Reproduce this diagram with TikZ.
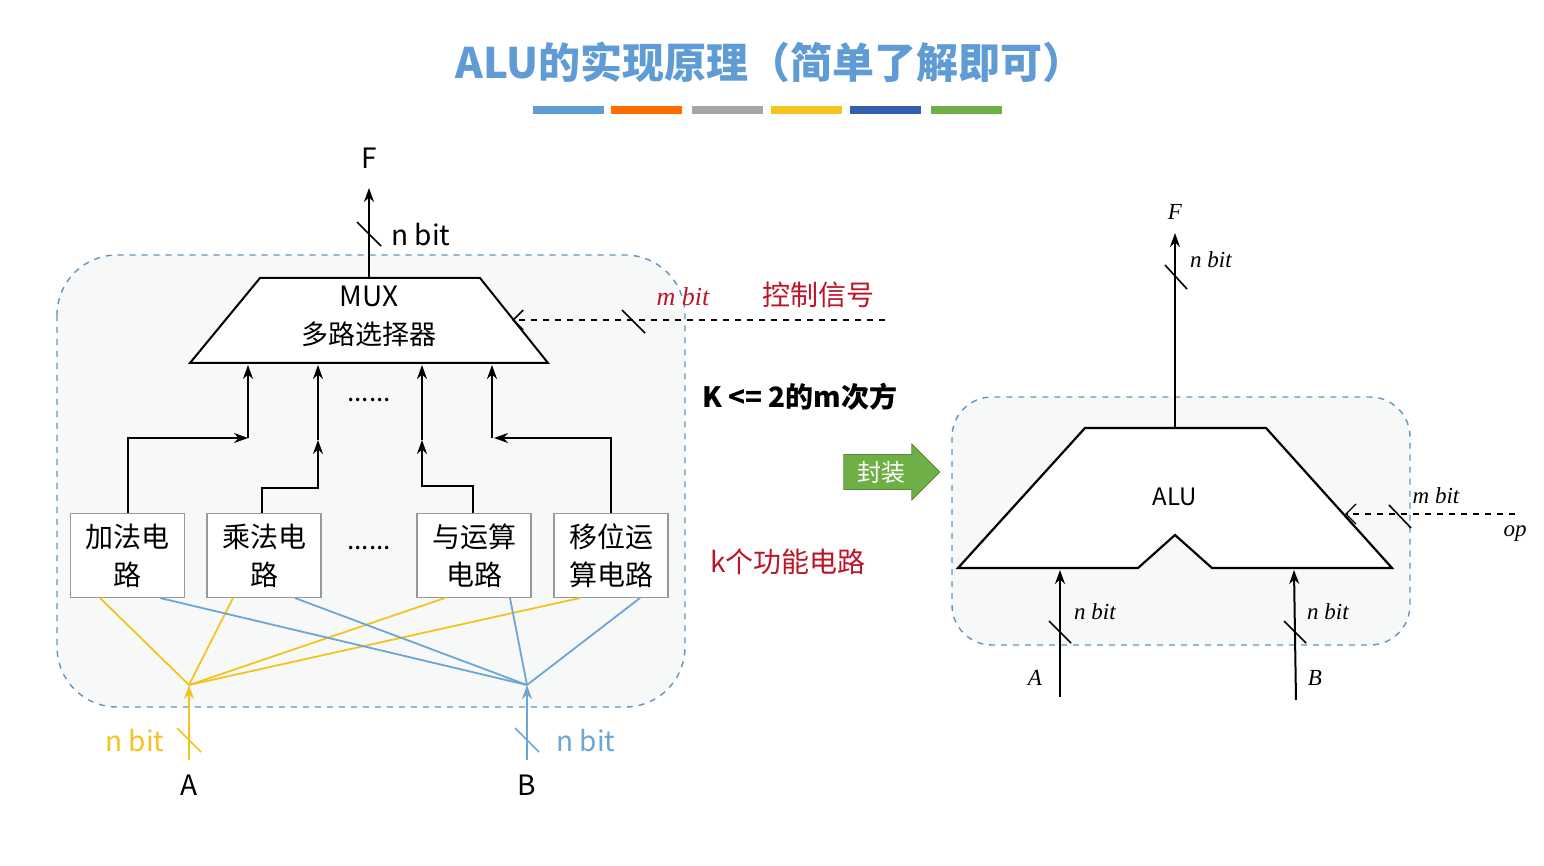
\documentclass[tikz,border=0pt]{standalone}
\usepackage{fontspec}
\setmainfont{Noto Sans CJK SC}
\newfontfamily\serifit{Liberation Serif}
\usetikzlibrary{arrows.meta,shapes.arrows}
\definecolor{ttl}{RGB}{95,155,212}
\definecolor{yel}{RGB}{245,195,30}
\definecolor{blu}{RGB}{110,165,210}
\definecolor{dred}{RGB}{190,20,40}
\definecolor{bg}{RGB}{247,249,249}
\definecolor{grn}{RGB}{110,175,70}
\definecolor{dblu}{RGB}{50,95,180}
\begin{document}
\begin{tikzpicture}[x=0.5pt,y=-0.5pt,
  box/.style={draw=gray!80,fill=white,line width=0.8pt,minimum width=57pt,minimum height=42pt,align=center,font=\fontsize{14}{19}\selectfont,inner sep=0pt},
  wire/.style={line width=1pt,-{Stealth[length=7pt,width=5pt]}},
  slash/.style={line width=0.8pt},
  cont/.style={draw=blu!90!black,dashed,line width=0.7pt,fill=bg},
  it/.style={font=\serifit\itshape\fontsize{11.5}{13}\selectfont}]
\useasboundingbox (0,0) rectangle (1544,866);
\fill[white] (0,0) rectangle (1544,866);
% title
\node[text=ttl,font=\bfseries\fontsize{21}{24}\selectfont] (title) at (770,62) {ALU的实现原理（简单了解即可）};
\foreach \a/\c in {533/ttl,611/orange!85!red,692/gray!70,771/yel,850/dblu,931/grn}
  \fill[\c] (\a,106) rectangle ++(71,8);
% left container
\draw[cont,rounded corners=30pt] (57,255) rectangle (685,707);
% MUX
\draw[fill=white,line width=1pt] (260,278) -- (480,278) -- (548,363) -- (190,363) -- cycle;
\node[font=\fontsize{14}{16}\selectfont] (mux) at (369,296) {MUX};
\node[font=\fontsize{13.5}{16}\selectfont] (muxl) at (369,334) {多路选择器};
\coordinate (muxt) at (369,278);
\coordinate (Fl) at (369,188);
\draw[wire] (muxt) -- (Fl);
\draw[slash] (357,222) -- (381,246);
\node[font=\fontsize{14}{16}\selectfont] (nbF) at (421,235) {n bit};
\node[font=\fontsize{14}{16}\selectfont] (F) at (369,158) {F};
% control
\coordinate (c0) at (885,320); \coordinate (c1) at (512,320);
\draw[dashed,line width=0.8pt,-{Straight Barb[length=5pt]}] (c0) -- (c1);
\draw[slash] (622,310) -- (645,333);
\node[text=dred,font=\serifit\itshape\fontsize{13}{15}\selectfont] (mb) at (683,297) {m bit};
\node[text=dred,font=\fontsize{14}{16}\selectfont] (ctl) at (818,295) {控制信号};
% boxes
\node[box] (b1) at (127.5,555.5) {加法电\\路};
\node[box] (b2) at (264,555.5) {乘法电\\路};
\node[box] (b3) at (474,555.5) {与运算\\电路};
\node[box] (b4) at (611,555.5) {移位运\\算电路};
\node[font=\fontsize{13}{15}\selectfont] (d1) at (369,400) {......};
\node[font=\fontsize{13}{15}\selectfont] (d2) at (369,548) {......};
% arrows to mux
\draw[wire] (b1.north) |- (248,438);
\draw[wire] (248,438) -- (248,365);
\draw[wire] (b2.north) ++(-2,0) |- (318,488) -- (318,440);
\draw[wire] (318,440) -- (318,365);
\draw[wire] (b3.north) ++(-1,0) |- (422,486) -- (422,440);
\draw[wire] (422,440) -- (422,365);
\draw[wire] (b4.north) |- (494,438);
\draw[wire] (492,438) -- (492,365);
% fan
\coordinate (pa) at (189,685); \coordinate (pb) at (527,685);
\foreach \x in {100,233,445,580} \draw[yel,line width=0.9pt] (pa) -- (\x,598);
\foreach \x in {160,295,510,640} \draw[blu,line width=0.9pt] (pb) -- (\x,598);
% inputs
\coordinate (ain) at (189,760); \coordinate (bin) at (527,760);
\draw[yel,wire] (ain) -- (pa);
\draw[blu,wire] (bin) -- (pb);
\draw[yel,slash] (177,728) -- (201,752);
\draw[blu,slash] (515,728) -- (539,752);
\node[text=yel,font=\fontsize{14}{16}\selectfont] (nba) at (135,741) {n bit};
\node[text=blu,font=\fontsize{14}{16}\selectfont] (nbb) at (586,741) {n bit};
\node[font=\fontsize{14}{16}\selectfont] (A) at (189,785) {A};
\node[font=\fontsize{14}{16}\selectfont] (B) at (527,785) {B};
\node[font=\bfseries\fontsize{14}{16}\selectfont,anchor=west] (K) at (695,397) {K <= 2的m次方};
\node[text=dred,font=\fontsize{14}{16}\selectfont] (k) at (788,562) {k个功能电路};
% green arrow
\node[single arrow,fill=grn,draw=grn!80!black,minimum height=48pt,minimum width=28pt,single arrow head extend=4pt,inner sep=1pt,text=white,font=\fontsize{12}{14}\selectfont] (pack) at (883,472) {封装\,};
% right
\draw[cont,rounded corners=20pt] (952,397) rectangle (1410,645);
\draw[fill=white,line width=1.1pt] (958,568) -- (1085,428) -- (1266,428) -- (1392,568) -- (1212,568) -- (1175,535) -- (1138,568) -- cycle;
\node[font=\fontsize{12}{14}\selectfont] (alu) at (1175,497) {ALU};
\coordinate (at) at (1175,428); \coordinate (Fr) at (1175,233);
\draw[wire] (at) -- (Fr);
\draw[slash] (1165,265) -- (1187,289);
\node[it] (nbr) at (1211,260) {n bit};
\node[it] (Fr2) at (1175,212) {F};
\coordinate (ar0) at (1060,697); \coordinate (ar1) at (1060,570);
\coordinate (br0) at (1296,700); \coordinate (br1) at (1294,570);
\draw[wire] (ar0) -- (ar1);
\draw[wire] (br0) -- (br1);
\draw[slash] (1049,621) -- (1071,643);
\draw[slash] (1284,621) -- (1306,643);
\node[it] (nbra) at (1095,612) {n bit};
\node[it] (nbrb) at (1328,612) {n bit};
\node[it] (Ar) at (1035,678) {A};
\node[it] (Br) at (1315,678) {B};
\coordinate (o0) at (1515,514); \coordinate (o1) at (1345,514);
\draw[dashed,line width=0.7pt,-{Straight Barb[length=5pt]}] (o0) -- (o1);
\draw[slash] (1389,505) -- (1411,528);
\node[it] (mbr) at (1436,496) {m bit};
\node[it] (op) at (1515,534) {op};
\end{tikzpicture}
\end{document}
